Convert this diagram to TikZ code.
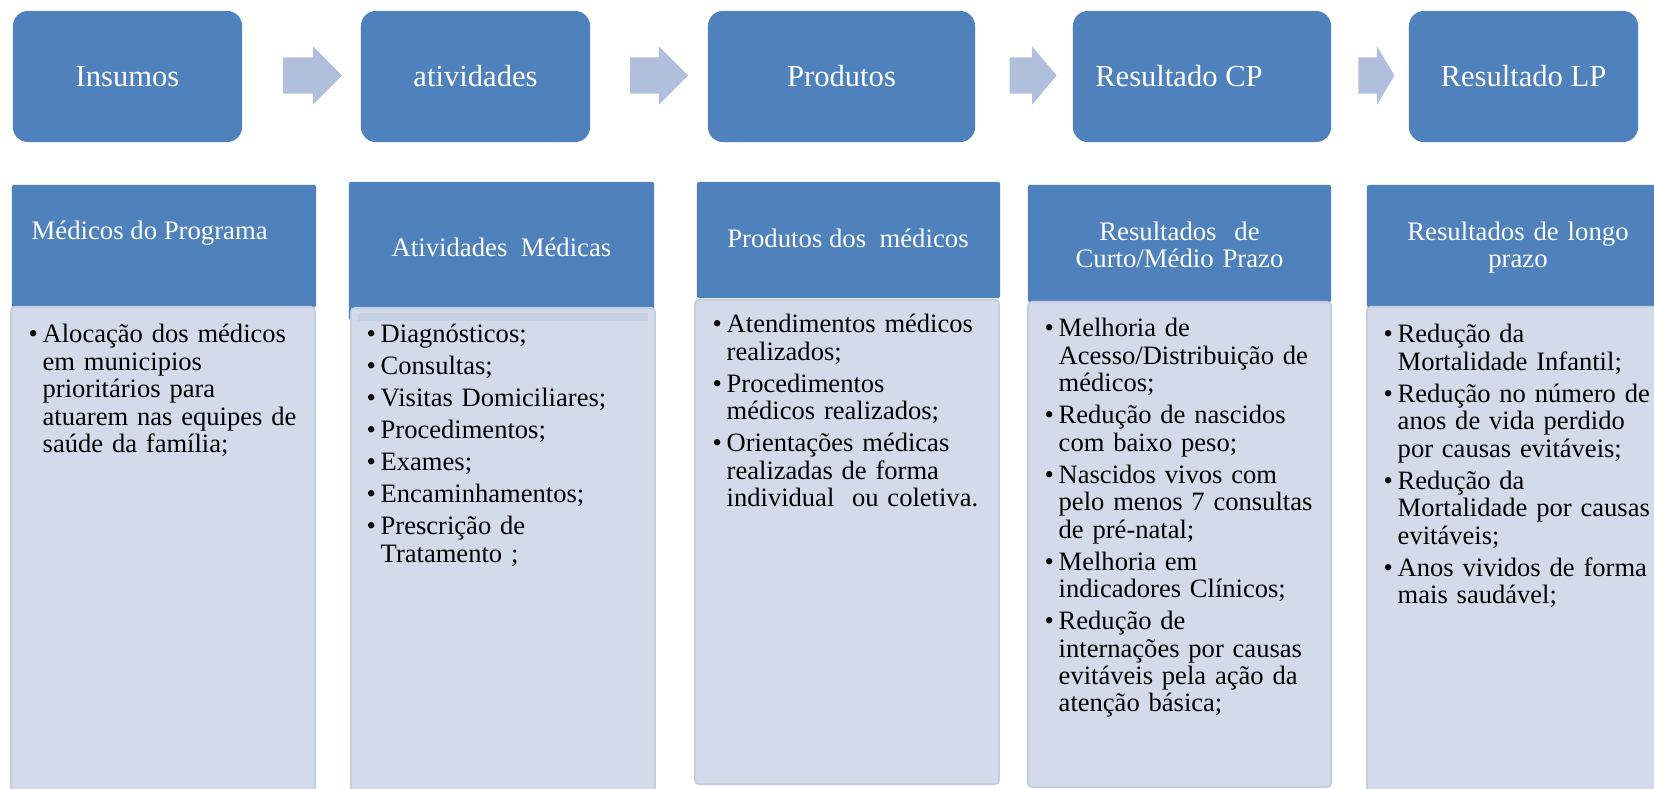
\documentclass[tikz,border=0pt]{standalone}
\usepackage{fontspec}
\setmainfont{Liberation Serif}
\usetikzlibrary{shapes.arrows}

\definecolor{Azul}{HTML}{4F81BD}
\definecolor{AzulClaro}{HTML}{D3DBEA}
\definecolor{Borda}{HTML}{C3CDE2}
\definecolor{Faixa}{HTML}{C6D1E6}
\definecolor{SetaCor}{HTML}{B0C0DC}

% primeiro item e itens seguintes das listas
\newcommand{\bula}{\noindent\hangindent=0.14cm\hangafter=1\makebox[0.14cm][l]{\textbullet}}
\newcommand{\bul}{\par\bula}
\newcommand{\nl}{\newline}

\begin{document}
\begin{tikzpicture}[x=0.01cm, y=-0.01cm]
			\tikzstyle{Etapa}	= [rounded corners=0.15cm, fill=Azul, text=white, inner sep=0pt, minimum height=1.31cm, text height=0.2cm, text depth=0pt, font=\fontsize{8.7}{10}\selectfont]
			\tikzstyle{SetaBloco}	= [single arrow, fill=SetaCor, inner sep=0pt, text height=0.35cm, text depth=0pt, minimum width=0.57cm, single arrow head extend=0.11cm]
			\tikzstyle{Cabeca}	= [fill=Azul, rounded corners=0.02cm, inner sep=0pt, minimum width=3.04cm]
			\tikzstyle{Corpo}	= [fill=AzulClaro, draw=Borda, line width=0.5pt, rounded corners=0.04cm, inner sep=0pt, minimum width=3.04cm]
			\tikzstyle{TituloCab}	= [text=white, inner sep=0pt, font=\fontsize{7.6}{7.4}\selectfont]
			\tikzstyle{Lista}	= [anchor=base west, inner sep=0pt, text width=3.2cm, font=\fontsize{7.55}{7.8}\selectfont\raggedright\setlength{\parskip}{1.3pt}]

			\useasboundingbox (0,0) rectangle (1654,789);
			\clip (0,0) rectangle (1654,789);

			% etapas do modelo
			\node (insumos) at (127.5,76.5) [Etapa, minimum width=2.29cm] {Insumos};
			\node (ativ) at (475.5,76.5) [Etapa, minimum width=2.29cm] {atividades};
			\node (prod) at (841.5,76.5) [Etapa, minimum width=2.67cm] {Produtos};
			\node (rescp) at (1202,76.5) [Etapa, minimum width=2.58cm] {Resultado CP\hspace*{0.46cm}};
			\node (reslp) at (1523.5,76.5) [Etapa, minimum width=2.29cm] {Resultado LP};

			\node (s1) at (303.5,75.5) [SetaBloco, minimum height=0.59cm, single arrow tip angle=90] {};
			\node (s2) at (650,75.5) [SetaBloco, minimum height=0.58cm, single arrow tip angle=90] {};
			\node (s3) at (1025.5,75.5) [SetaBloco, minimum height=0.47cm, single arrow tip angle=100] {};
			\node (s4) at (1371,75.5) [SetaBloco, minimum height=0.36cm, single arrow tip angle=118] {};

			% colunas
			\node (h1) at (164,246) [Cabeca, minimum height=1.22cm] {};
			\node (h2) at (501.5,251) [Cabeca, minimum width=3.05cm, minimum height=1.38cm] {};
			\node (h3) at (848.5,240) [Cabeca, minimum width=3.03cm, minimum height=1.16cm] {};
			\node (h4) at (1179.5,243.5) [Cabeca, minimum width=3.03cm, minimum height=1.17cm] {};
			\node (h5) at (1518.5,246) [Cabeca, minimum width=3.03cm, minimum height=1.22cm] {};

			\node (c1) at (163,553.5) [Corpo, minimum height=4.93cm] {};
			\node (c2) at (503,554) [Corpo, minimum height=4.92cm] {};
			\node (faixa) at (503,317) [fill=Faixa, inner sep=0pt, minimum width=2.9cm, minimum height=0.08cm] {};
			\node (c3) at (847,542) [Corpo, minimum height=4.84cm] {};
			\node (c4) at (1179.5,544.5) [Corpo, minimum width=3.03cm, minimum height=4.85cm] {};
			\node (c5) at (1518.5,553.5) [Corpo, minimum width=3.03cm, minimum height=4.93cm] {};

			\node (t1) at (31,240) [TituloCab, anchor=base west] {Médicos do Programa};
			\node (t2) at (501.5,257) [TituloCab, anchor=base] {Atividades\ \ Médicas};
			\node (t3) at (848,248) [TituloCab, anchor=base] {Produtos dos\ \ médicos};
			\node (t4) at (1179.5,241) [TituloCab, anchor=base, text width=3cm, align=center] {Resultados\ \ de\\ Curto/Médio Prazo};
			\node (t5) at (1518,241) [TituloCab, anchor=base, text width=3cm, align=center] {Resultados de longo\\ prazo};

			\node (l1) at (28,343) [Lista] {\bula Alocação dos médicos\nl em municipios\nl prioritários para\nl atuarem nas equipes de\nl saúde da família;\par};
			\node (l2) at (366,343) [Lista] {\bula Diagnósticos; \bul Consultas; \bul Visitas Domiciliares; \bul Procedimentos; \bul Exames; \bul Encaminhamentos; \bul Prescrição de\nl Tratamento ;\par};
			\node (l3) at (712,333) [Lista] {\bula Atendimentos médicos\nl realizados; \bul Procedimentos\nl médicos realizados; \bul Orientações médicas\nl realizadas de forma\nl individual\ \ ou coletiva.\par};
			\node (l4) at (1044,337) [Lista] {\bula Melhoria de\nl Acesso/Distribuição de\nl médicos; \bul Redução de nascidos\nl com baixo peso; \bul Nascidos vivos com\nl pelo menos 7 consultas\nl de pré-natal; \bul Melhoria em\nl indicadores Clínicos; \bul Redução de\nl internações por causas\nl evitáveis pela ação da\nl atenção básica;\par};
			\node (l5) at (1383,343) [Lista] {\bula Redução da\nl Mortalidade Infantil; \bul Redução no número de\nl anos de vida perdido\nl por causas evitáveis; \bul Redução da\nl Mortalidade por causas\nl evitáveis; \bul Anos vividos de forma\nl mais saudável;\par};
\end{tikzpicture}
\end{document}
